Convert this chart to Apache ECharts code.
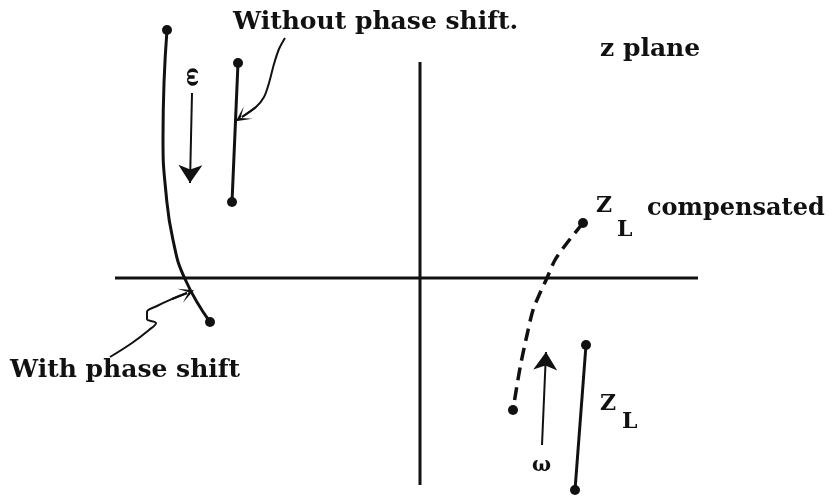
<!DOCTYPE html>
<html>
<head>
<meta charset="utf-8">
<title>z plane</title>
<script src="https://cdn.jsdelivr.net/npm/echarts@6/dist/echarts.min.js"></script>
<style>
  html, body { margin: 0; padding: 0; background: #fff; }
  #main { width: 835px; height: 497px; }
</style>
</head>
<body>
<div id="main"></div>
<script>
// coordinates: origin at the crossing of the two axes, x to the right, y upwards
var realAxis = [[-305, 0], [278, 0]];
var imagAxis = [[0, 216], [0, -207]];

// locus with phase shift (solid curve, left)
var withShift = [[-253, 248], [-256, 195], [-257, 140], [-254, 85], [-247, 38],
                 [-235, -1], [-210, -44]];
// locus without phase shift (straight, left)
var withoutShift = [[-182, 215], [-188, 76]];
// Z_L compensated (dashed curve, right)
var zlComp = [[163, 55], [147, 35], [135, 18], [127, 0], [120, -15], [113, -32],
              [107, -57], [100, -90], [93, -132]];
// Z_L (straight, right)
var zl = [[166, -67], [155, -212]];

// omega direction arrows
var omegaLeft = [[-228, 185], [-230, 95]];
var omegaRight = [[122, -167], [126, -74]];

// leader arrows pointing from the labels to the curves
var leaderWithout = [[-135, 240], [-141, 229], [-146, 214], [-151, 195], [-156, 181],
                     [-164, 171], [-178, 161]];
var leaderWith = [[-310, -79], [-288, -65], [-271, -52], [-264, -45], [-273, -41],
                  [-273, -34], [-263, -28], [-248, -21], [-233, -15]];

var ink = '#111';
var serif = 'DejaVu Serif';
var barb = 'path://M5,0 L10,13 L5,5 L0,13 Z';

function ends(arr) { return [arr[0], arr[arr.length - 1]]; }
function lastSeg(arr) { return [arr[arr.length - 2], arr[arr.length - 1]]; }

var dots = [].concat(ends(withShift), ends(withoutShift), ends(zlComp), ends(zl));

function curve(data, width, smooth, dash) {
    return {
        type: 'line', data: data, symbol: 'none', smooth: smooth,
        lineStyle: { color: ink, width: width, type: dash || 'solid' },
        silent: true
    };
}

function head(seg, sym, size, width) {
    return {
        type: 'lines', coordinateSystem: 'cartesian2d',
        symbol: ['none', sym], symbolSize: size,
        lineStyle: { color: ink, width: width, opacity: 1 },
        data: [{ coords: seg }], silent: true
    };
}

function txt(s, x, y, size, extra) {
    var t = {
        type: 'text', x: x, y: y,
        style: { text: s, fill: ink, font: 'bold ' + size + 'px "' + serif + '"',
                 verticalAlign: 'middle', align: 'left' }
    };
    for (var k in extra) t[k] = extra[k];
    return t;
}

var myChart = echarts.init(document.getElementById('main'));
var option = {
    animation: false,
    grid: { left: 0, right: 0, top: 0, bottom: 0 },
    xAxis: { type: 'value', min: -420, max: 415, show: false },
    yAxis: { type: 'value', min: -219, max: 278, show: false },
    series: [
        curve(realAxis, 3, false),
        curve(imagAxis, 3, false),
        curve(withShift, 3, 0.5),
        curve(withoutShift, 3, false),
        curve(zlComp, 3.5, 0.3, [13, 7]),
        curve(zl, 3, false),
        head(omegaLeft, 'arrow', [9, 18], 2),
        head(omegaRight, 'arrow', [9, 18], 2),
        curve(leaderWithout, 2, 0.3),
        head(lastSeg(leaderWithout), barb, [12, 15], 2),
        curve(leaderWith, 2, 0.4),
        head(lastSeg(leaderWith), barb, [12, 15], 2),
        {
            type: 'scatter', data: dots, symbol: 'circle', symbolSize: 10,
            itemStyle: { color: ink, opacity: 1 }, silent: true
        }
    ],
    graphic: [
        txt('Without phase shift.', 233, 22, 25),
        txt('z plane', 600, 49, 25),
        txt('Z', 596, 206, 22),
        txt('L', 617, 230, 22),
        txt('compensated', 647, 209, 24),
        txt('With phase shift', 10, 370, 25),
        txt('Z', 600, 404, 22),
        txt('L', 622, 422, 22),
        txt('ω', 532, 466, 20),
        {
            type: 'text', x: 192, y: 77, rotation: -Math.PI / 2,
            style: { text: 'ω', fill: ink, font: 'bold 20px "' + serif + '"',
                     align: 'center', verticalAlign: 'middle' }
        }
    ]
};
myChart.setOption(option);
</script>
</body>
</html>
